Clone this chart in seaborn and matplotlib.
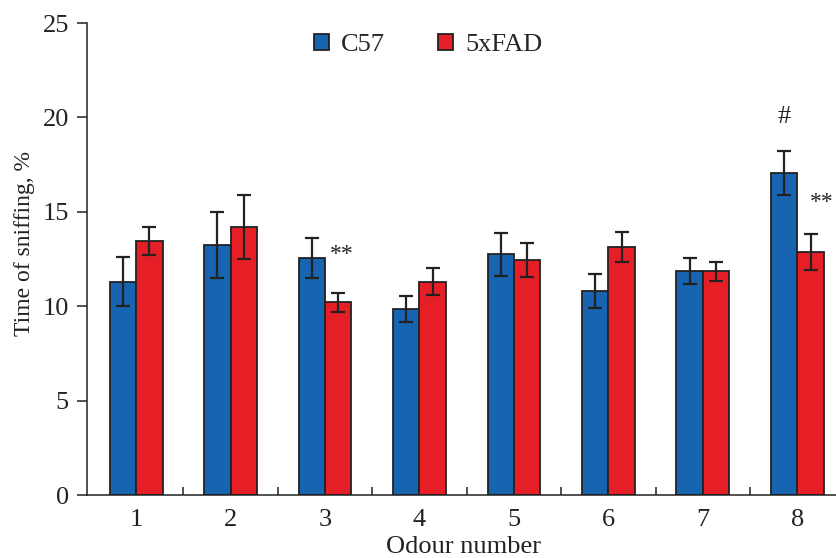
import matplotlib
matplotlib.use("Agg")
import matplotlib.pyplot as plt
import seaborn as sns
import pandas as pd
import numpy as np
from matplotlib.ticker import FixedLocator

odours = ["1", "2", "3", "4", "5", "6", "7", "8"]
c57_mean = [11.3, 13.25, 12.55, 9.85, 12.75, 10.8, 11.85, 17.05]
c57_err = [1.3, 1.75, 1.05, 0.7, 1.15, 0.9, 0.7, 1.15]
fad_mean = [13.45, 14.2, 10.2, 11.3, 12.45, 13.15, 11.85, 12.85]
fad_err = [0.75, 1.7, 0.5, 0.7, 0.9, 0.8, 0.5, 0.95]
groups = ["C57", "5xFAD"]
annotations = [("**", 2, 12.75, "right", 17), ("#", 7, 20.0, "center", 19),
               ("**", 7, 15.5, "far", 17)]

sns.set_style("white")
plt.rcParams["font.family"] = ["Liberation Serif", "DejaVu Serif"]

df = pd.DataFrame({
    "odour": odours * 2,
    "value": c57_mean + fad_mean,
    "group": [groups[0]] * len(odours) + [groups[1]] * len(odours),
})

fig = plt.figure(figsize=(8.37, 5.58), dpi=100)
ax = fig.add_axes([87 / 837, 63 / 558, 750 / 837, 472 / 558])
palette = {"C57": "#1764b0", "5xFAD": "#e61f27"}
sns.barplot(data=df, x="odour", y="value", hue="group", order=odours,
            hue_order=groups, palette=palette, width=0.56, gap=0,
            edgecolor="#222222", linewidth=1.3, errorbar=None, saturation=1,
            ax=ax)

errs = {"C57": (c57_mean, c57_err), "5xFAD": (fad_mean, fad_err)}
for cont, g in zip(ax.containers, groups):
    xs = [p.get_x() + p.get_width() / 2 for p in cont.patches]
    m, e = errs[g]
    ax.errorbar(xs, m, yerr=e, fmt="none", ecolor="#222222", elinewidth=1.6,
                capsize=5, capthick=1.6, zorder=5)

bar_w = 0.28
for txt, i, y, pos, fs in annotations:
    if pos == "right":
        x = i - bar_w / 2 + 0.19
        ha = "left"
    elif pos == "center":
        x = i - bar_w / 2
        ha = "center"
    else:
        x = i + bar_w / 2 + 0.12
        ha = "center"
    ax.text(x, y, txt, ha=ha, va="center", fontsize=fs, color="#222222")

ax.set_xlim(-0.52, 7.42)
ax.set_ylim(0, 25)
ax.set_yticks([0, 5, 10, 15, 20, 25])
ax.tick_params(axis="y", direction="out", length=7, width=1.1, labelsize=19,
               left=True, colors="#222222", pad=6)
ax.tick_params(axis="x", which="major", length=0, labelsize=19, pad=10,
               colors="#222222")
ax.xaxis.set_minor_locator(FixedLocator(np.arange(0.5, 7, 1.0)))
ax.tick_params(axis="x", which="minor", direction="in", length=6, width=1.1,
               bottom=True, color="#222222")
for s in ["top", "right"]:
    ax.spines[s].set_visible(False)
for s in ["left", "bottom"]:
    ax.spines[s].set_color("#222222")
    ax.spines[s].set_linewidth(1.1)

ax.set_xlabel("Odour number", fontsize=19, color="#222222")
ax.xaxis.set_label_coords(0.502, -0.086)
ax.set_ylabel("Time of sniffing, %", fontsize=17, color="#222222")
ax.yaxis.set_label_coords(-0.069, 0.532)

leg = ax.legend(loc="center", bbox_to_anchor=(0.455, 0.953), ncol=2,
                frameon=False, fontsize=19, handlelength=0.57,
                handleheight=0.57, columnspacing=2.0, handletextpad=0.45)

fig.savefig("out.png", dpi=100)
